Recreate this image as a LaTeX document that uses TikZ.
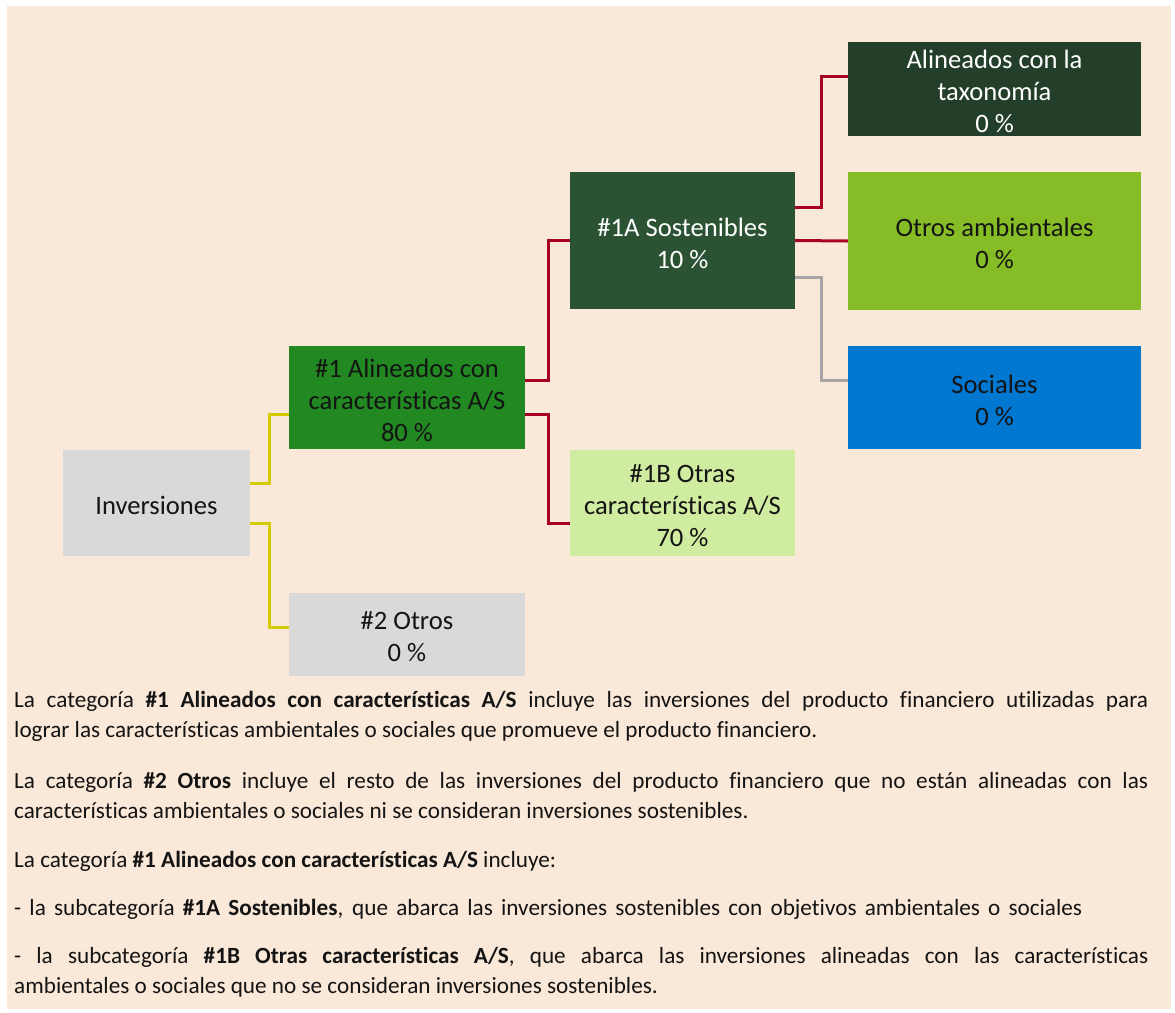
\documentclass[tikz,border=0pt]{standalone}
\usepackage{fontspec}
\setmainfont{Carlito}[Ligatures={NoCommon}]
\definecolor{bgc}{RGB}{250,232,216}
\definecolor{greyb}{RGB}{217,217,217}
\definecolor{gone}{RGB}{34,137,34}
\definecolor{goneA}{RGB}{44,82,52}
\definecolor{gtax}{RGB}{35,62,41}
\definecolor{gamb}{RGB}{134,188,37}
\definecolor{bsoc}{RGB}{0,119,208}
\definecolor{goneB}{RGB}{208,236,160}
\definecolor{yline}{RGB}{212,204,0}
\definecolor{rline}{RGB}{168,0,36}
\definecolor{gline}{RGB}{166,166,166}
\definecolor{txt}{RGB}{20,20,20}
\begin{document}
\begin{tikzpicture}[x=1pt,y=-1pt,
  box/.style={inner sep=0pt},
  boxtext/.style={inner sep=0pt, align=center, yshift=-2.5pt, font=\fontsize{26.6}{32}\selectfont, text=txt},
  para/.style={inner sep=0pt, anchor=base west, text width=1134pt, align=justify, font=\fontsize{23.2}{30}\selectfont, text=txt},
  yconn/.style={draw=yline, line width=3pt},
  rconn/.style={draw=rline, line width=3pt},
  gconn/.style={draw=gline, line width=3pt}]
\useasboundingbox (0,0) rectangle (1175,1012);
\fill[bgc] (7,6) rectangle (1171,1009);
% boxes
\node[box, fill=greyb, minimum width=187pt, minimum height=106pt,
  label={[boxtext]center:{Inversiones}}] (inv) at (156.5,503) {};
\node[box, fill=gone, minimum width=236pt, minimum height=103pt,
  label={[boxtext]center:{\#1 Alineados con\\características A/S\\80 \%}}] (a1) at (407,397.5) {};
\node[box, fill=greyb, minimum width=236pt, minimum height=83pt,
  label={[boxtext]center:{\#2 Otros\\0 \%}}] (ot) at (407,634.5) {};
\node[box, fill=goneA, minimum width=225pt, minimum height=137pt,
  label={[boxtext, text=white]center:{\#1A Sostenibles\\10 \%}}] (s1a) at (682.5,240.5) {};
\node[box, fill=goneB, minimum width=225pt, minimum height=106pt,
  label={[boxtext]center:{\#1B Otras\\características A/S\\70 \%}}] (s1b) at (682.5,503) {};
\node[box, fill=gtax, minimum width=293pt, minimum height=94pt,
  label={[boxtext, text=white]center:{Alineados con la\\taxonomía\\0 \%}}] (tax) at (994.5,89) {};
\node[box, fill=gamb, minimum width=293pt, minimum height=138pt,
  label={[boxtext]center:{Otros ambientales\\0 \%}}] (amb) at (994.5,241) {};
\node[box, fill=bsoc, minimum width=293pt, minimum height=103pt,
  label={[boxtext]center:{Sociales\\0 \%}}] (soc) at (994.5,397.5) {};
% connectors
\draw[yconn] ([yshift=20pt]inv.east) -- ++(19pt,0) |- ([yshift=-16.5pt]a1.west);
\draw[yconn] ([yshift=-20pt]inv.east) -- ++(19pt,0) |- ([yshift=7.5pt]ot.west);
\draw[rconn] ([yshift=17.5pt]a1.east) -- ++(23pt,0) |- (s1a.west);
\draw[rconn] ([yshift=-16.5pt]a1.east) -- ++(23pt,0) |- ([yshift=-20pt]s1b.west);
\draw[rconn] ([yshift=33.5pt]s1a.east) -- ++(26pt,0) |- ([yshift=13pt]tax.west);
\draw[rconn] (s1a.east) -- (amb.west);
\draw[gconn] ([yshift=-36.5pt]s1a.east) -- ++(26pt,0) |- ([yshift=17.5pt]soc.west);
% text
\node[para] (p1) at (14,707.5) {La categoría \textbf{\#1 Alineados con características A/S} incluye las inversiones del producto financiero utilizadas para\linebreak lograr las características ambientales o sociales que promueve el producto financiero.};
\node[para] (p2) at (14,788) {La categoría \textbf{\#2 Otros} incluye el resto de las inversiones del producto financiero que no están alineadas con las\linebreak características ambientales o sociales ni se consideran inversiones sostenibles.};
\node[para] (p3) at (14,867) {La categoría \textbf{\#1 Alineados con características A/S} incluye:};
\node[para, text width=1068pt] (p4) at (14,915) {\parfillskip=0pt\relax - la subcategoría \textbf{\#1A Sostenibles}, que abarca las inversiones sostenibles con objetivos ambientales o sociales\par};
\node[para] (p5) at (14,963) {- la subcategoría \textbf{\#1B Otras características A/S}, que abarca las inversiones alineadas con las características\linebreak ambientales o sociales que no se consideran inversiones sostenibles.};
\end{tikzpicture}
\end{document}
